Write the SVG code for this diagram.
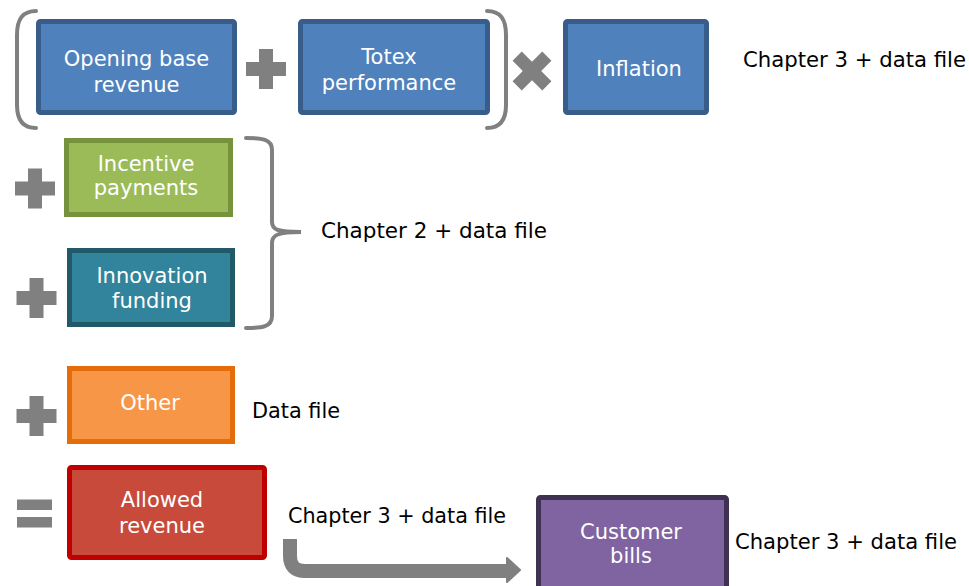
<svg xmlns="http://www.w3.org/2000/svg" width="969" height="586" viewBox="0 0 969 586">
  <style>
    .bt { font-family: "DejaVu Sans", Verdana, "Liberation Sans", sans-serif; font-size: 21px; fill: #ffffff; text-anchor: middle; }
    .lb { font-family: "DejaVu Sans", Verdana, "Liberation Sans", sans-serif; font-size: 21px; fill: #000000; }
    .op { fill: #808080; }
    .br { fill: none; stroke: #808080; stroke-width: 4; stroke-linecap: round; }
    .box { stroke-width: 5; }
    .blue { fill: #4F81BD; stroke: #385D8A; }
  </style>
  <defs>
    <path id="plus" d="M-7,-20 H7 V-7 H20 V7 H7 V20 H-7 V7 H-20 V-7 H-7 Z"/>
  </defs>
  <rect width="969" height="586" fill="#ffffff"/>

  <!-- brackets -->
  <g id="brackets">
    <path class="br" d="M36,11 C22,11 17,20 17,35 V105 C17,119 22,128 36,128"/>
    <path class="br" d="M487,11 C501,11 506,20 506,35 V105 C506,119 501,128 487,128"/>
    <path class="br" d="M246,138 C262,138 272,139 272,150 V222 C272,230 278,232 301,232 C278,232 272,235 272,243 V316 C272,327 262,328 246,328"/>
  </g>

  <!-- operators -->
  <g id="operators">
    <use href="#plus" class="op" transform="translate(266,69)"/>
    <g class="op" transform="translate(532,71) rotate(45)">
      <rect x="-21" y="-6.5" width="42" height="13"/>
      <rect x="-6.5" y="-21" width="13" height="42"/>
    </g>
    <use href="#plus" class="op" transform="translate(35,188.5)"/>
    <use href="#plus" class="op" transform="translate(36.5,298)"/>
    <use href="#plus" class="op" transform="translate(36.5,416)"/>
    <rect class="op" x="17" y="499.5" width="35" height="10.5"/>
    <rect class="op" x="17" y="517" width="35" height="10.5"/>
  </g>

  <g id="opening">
    <rect class="box blue" x="38.5" y="21.5" width="196" height="91" rx="2"/>
    <text class="bt" x="136.5" y="66">Opening base</text>
    <text class="bt" x="136.5" y="92">revenue</text>
  </g>
  <g id="totex">
    <rect class="box blue" x="300.5" y="21.5" width="187" height="91" rx="2"/>
    <text class="bt" x="389" y="64">Totex</text>
    <text class="bt" x="389" y="90">performance</text>
  </g>
  <g id="inflation">
    <rect class="box blue" x="565.5" y="21.5" width="141" height="91" rx="2"/>
    <text class="bt" x="639" y="76">Inflation</text>
  </g>
  <g id="incentive">
    <rect class="box" x="66.5" y="140.5" width="164" height="74" fill="#9BBB59" stroke="#76923C"/>
    <text class="bt" x="146" y="171">Incentive</text>
    <text class="bt" x="146" y="195">payments</text>
  </g>
  <g id="innovation">
    <rect class="box" x="69.5" y="250.5" width="163" height="74" fill="#31849B" stroke="#215968"/>
    <text class="bt" x="152" y="283">Innovation</text>
    <text class="bt" x="152" y="308">funding</text>
  </g>
  <g id="other">
    <rect class="box" x="69.5" y="368.5" width="163" height="73" fill="#F79646" stroke="#E46C0A"/>
    <text class="bt" x="150" y="410">Other</text>
  </g>
  <g id="allowed">
    <rect class="box" x="69.5" y="467.5" width="195" height="90" rx="2" fill="#C84A3B" stroke="#C00000"/>
    <text class="bt" x="162" y="507">Allowed</text>
    <text class="bt" x="162" y="533">revenue</text>
  </g>
  <g id="customer">
    <rect class="box" x="538.5" y="497.5" width="188" height="100" rx="2" fill="#8064A2" stroke="#3F3151"/>
    <text class="bt" x="631" y="539">Customer</text>
    <text class="bt" x="631" y="563">bills</text>
  </g>

  <g id="connectors">
    <path d="M290,539 V556 Q290,571 305,571 H509" fill="none" stroke="#808080" stroke-width="14"/>
    <path d="M507,558 L520,570 L507,582 Z" fill="#808080" stroke="#808080" stroke-width="2" stroke-linejoin="round"/>
  </g>

  <g id="labels">
    <text class="lb" x="743" y="67" textLength="223" lengthAdjust="spacingAndGlyphs">Chapter 3 + data file</text>
    <text class="lb" x="321" y="238" textLength="226" lengthAdjust="spacingAndGlyphs">Chapter 2 + data file</text>
    <text class="lb" x="252" y="418" textLength="88" lengthAdjust="spacingAndGlyphs">Data file</text>
    <text class="lb" x="288" y="523" textLength="218" lengthAdjust="spacingAndGlyphs">Chapter 3 + data file</text>
    <text class="lb" x="735" y="549" textLength="222" lengthAdjust="spacingAndGlyphs">Chapter 3 + data file</text>
  </g>
</svg>
